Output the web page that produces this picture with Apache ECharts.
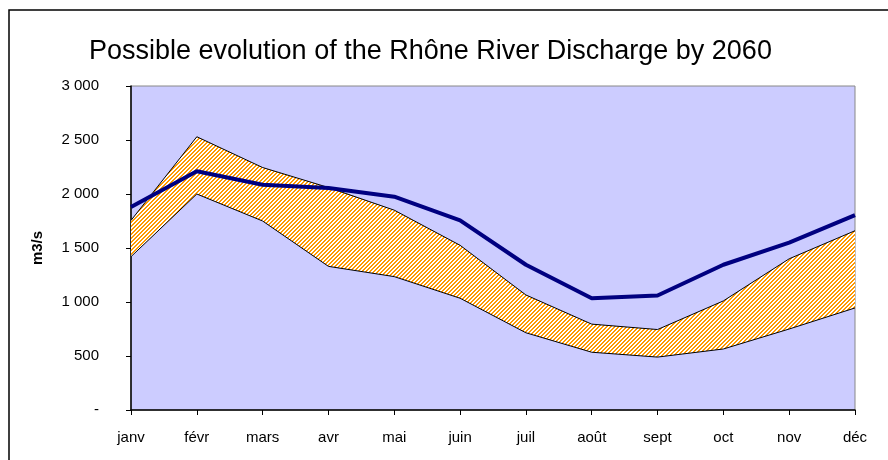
<!DOCTYPE html>
<html>
<head>
<meta charset="utf-8">
<script src="https://cdn.jsdelivr.net/npm/echarts@6/dist/echarts.min.js"></script>
<style>
  html, body { margin: 0; padding: 0; background: #fff; }
  #chart { width: 888px; height: 460px; }
</style>
</head>
<body>
<div id="chart"></div>
<script>
// months (French labels as in source)
var months = ["janv", "févr", "mars", "avr", "mai", "juin", "juil", "août", "sept", "oct", "nov", "déc"];
// current discharge (m3/s)
var current = [1880, 2210, 2085, 2055, 1975, 1755, 1345, 1035, 1060, 1345, 1550, 1805];
// 2060 range, upper and lower bounds
var upper = [1755, 2530, 2245, 2060, 1850, 1525, 1065, 795, 745, 1010, 1400, 1660];
var lower = [1420, 2000, 1750, 1330, 1235, 1035, 715, 535, 490, 565, 750, 945];
var yTicks = [0, 500, 1000, 1500, 2000, 2500, 3000];

// band thickness for the stacked area
var band = upper.map(function (v, i) { return v - lower[i]; });

// orange diagonal hatch, pixel based so it stays crisp
function hatch() {
  var c = document.createElement("canvas");
  c.width = 8; c.height = 8;
  var ctx = c.getContext("2d");
  ctx.fillStyle = "#ffffff";
  ctx.fillRect(0, 0, 8, 8);
  ctx.fillStyle = "#ff9900";
  for (var y = 0; y < 8; y++) {
    for (var x = 0; x < 8; x++) {
      if ((x + y) % 4 < 2) ctx.fillRect(x, y, 1, 1);
    }
  }
  return c;
}

function fmt(v) {
  if (v === 0) return "-";
  return String(v).replace(/\B(?=(\d{3})+(?!\d))/g, " ");
}

var chart = echarts.init(document.getElementById("chart"));
chart.setOption({
  animation: false,
  textStyle: { fontFamily: "Liberation Sans, Arial, sans-serif", color: "#000" },
  title: {
    text: "Possible evolution of the Rhône River Discharge by 2060",
    left: 84,
    top: 33,
    textStyle: { fontSize: 27, fontWeight: "normal", color: "#000", fontFamily: "Liberation Sans, Arial, sans-serif" }
  },
  graphic: [{
    type: "rect",
    shape: { x: 9, y: 10, width: 900, height: 500 },
    style: { fill: "none", stroke: "#000", lineWidth: 1.5 },
    silent: true
  }],
  grid: {
    left: 131, right: 33, top: 86, bottom: 50,
    show: true,
    backgroundColor: "#ccccff",
    borderColor: "#888",
    borderWidth: 1
  },
  xAxis: {
    type: "category",
    data: months,
    boundaryGap: false,
    axisLine: { lineStyle: { color: "#000", width: 1.5 } },
    axisTick: { show: true, length: 5, lineStyle: { color: "#000" } },
    axisLabel: { interval: 0, margin: 20, fontSize: 15, color: "#000" },
    splitLine: { show: false }
  },
  yAxis: {
    type: "value",
    min: yTicks[0],
    max: yTicks[yTicks.length - 1],
    interval: 500,
    name: "m3/s",
    nameLocation: "middle",
    nameGap: 86,
    nameRotate: 90,
    nameTextStyle: { fontSize: 15, fontWeight: "bold", color: "#000" },
    axisLine: { show: true, lineStyle: { color: "#000", width: 1.5 } },
    axisTick: { show: true, length: 5, lineStyle: { color: "#000" } },
    axisLabel: { margin: 32, fontSize: 15, color: "#000", formatter: fmt },
    splitLine: { show: false }
  },
  series: [
    {
      name: "lower",
      type: "line",
      stack: "range",
      data: lower,
      symbol: "none",
      lineStyle: { color: "#000", width: 1 },
      z: 2
    },
    {
      name: "upper",
      type: "line",
      stack: "range",
      data: band,
      symbol: "none",
      lineStyle: { color: "#000", width: 1 },
      areaStyle: { color: { image: hatch(), repeat: "repeat" }, opacity: 1 },
      z: 2
    },
    {
      name: "current",
      type: "line",
      data: current,
      symbol: "none",
      lineStyle: { color: "#000080", width: 4 },
      z: 5
    }
  ]
});
</script>
</body>
</html>
